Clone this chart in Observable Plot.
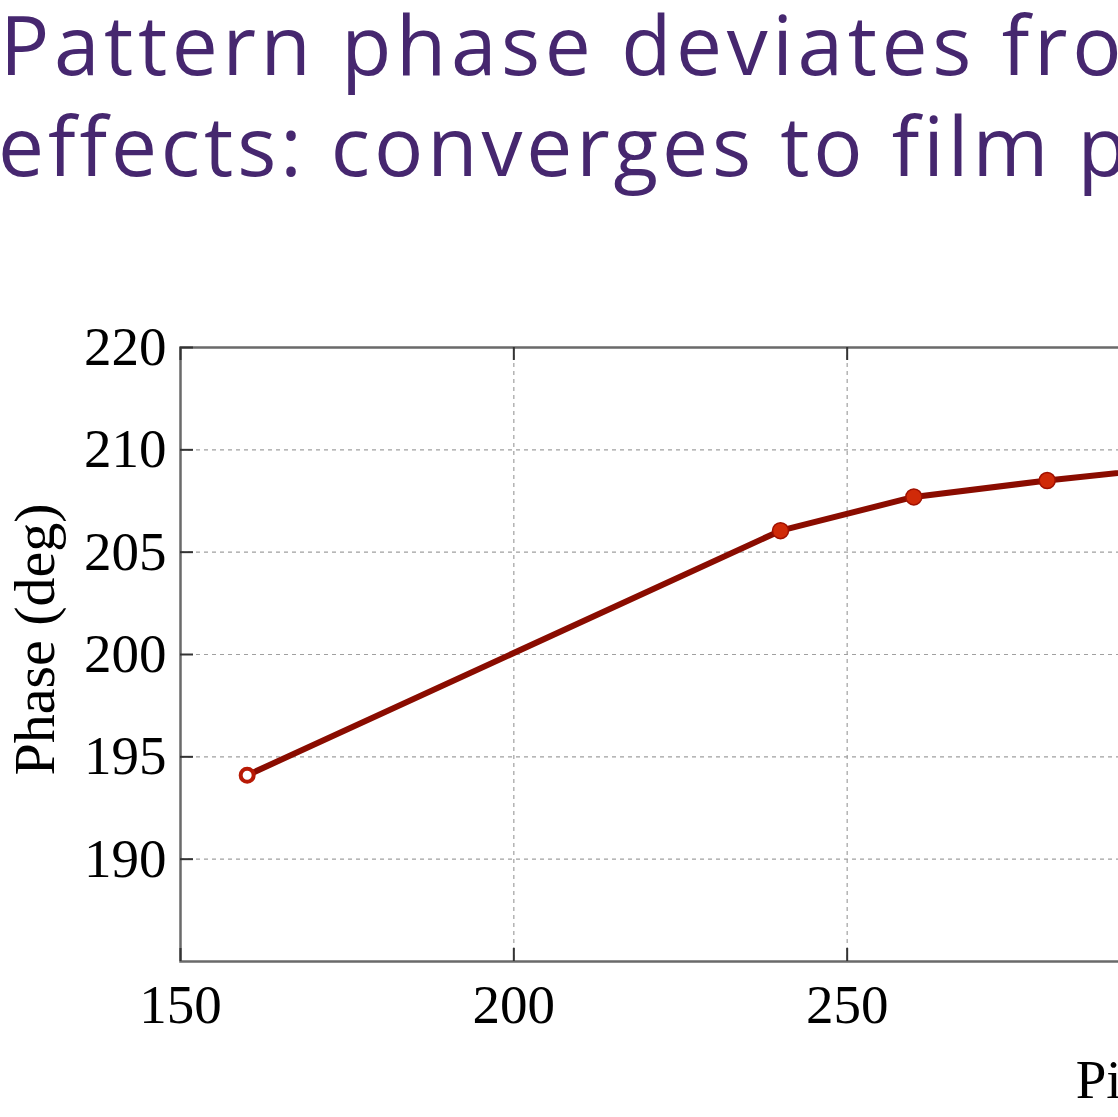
<!DOCTYPE html>
<html>
<head>
<meta charset="utf-8">
<script src="https://cdn.jsdelivr.net/npm/d3@7"></script>
<script src="https://cdn.jsdelivr.net/npm/@observablehq/plot@0.6"></script>
<style>
  html, body { margin: 0; padding: 0; background: #fff; width: 1118px; height: 1117px; overflow: hidden; position: relative; }
  #title { position: absolute; left: 0; top: 0; color: #46276f; font-family: "Open Sans", sans-serif; font-weight: 400; font-size: 82px; line-height: 101px; white-space: nowrap; letter-spacing: 4.6px; }
  #title div { white-space: nowrap; }
  #chart { position: absolute; left: 0; top: 230px; width: 2230px; }
  #chart svg { max-width: none !important; width: 2230px !important; height: 887px !important; }
</style>
</head>
<body>
<div id="title">
  <div style="margin-left:0px; margin-top:-7px">Pattern phase deviates from film phase due to edge</div>
  <div style="margin-left:-2px; letter-spacing:3.9px">effects: converges to film phase at large pitch</div>
</div>
<div id="chart"></div>
<script>
// Data
const pitch = [160, 240, 260, 280, 300];
const phase = [194.1, 206.05, 207.7, 208.5, 209.2];
const xTicks = [150, 200, 250, 300, 350, 400, 450];
const yTicks = [190, 195, 200, 205, 210, 215];
const yTickLabels = ["190", "195", "200", "205", "210", "220"];
const xLabel = "Pitch (nm)";
const yLabel = "Phase (deg)";

const data = pitch.map((p, i) => ({pitch: p, phase: phase[i], open: i === 0}));

const W = 2230, H = 887;
const mT = 117, mB = 156, mL = 180, mR = 50;
const frameW = W - mL - mR, frameH = H - mT - mB;
const serif = "Liberation Serif, Times New Roman, serif";

const chart = Plot.plot({
  width: W,
  height: H,
  marginTop: mT,
  marginBottom: mB,
  marginLeft: mL,
  marginRight: mR,
  style: {background: "transparent", overflow: "visible", maxWidth: "none"},
  x: {domain: [150, 450], axis: null},
  y: {domain: [185, 215], axis: null},
  marks: [
    Plot.ruleX(xTicks.filter(d => d > 150), {x: d => d, stroke: "#a0a0a0", strokeWidth: 1.2, strokeDasharray: "4,4"}),
    Plot.ruleY(yTicks, {y: d => d, stroke: "#a0a0a0", strokeWidth: 1.2, strokeDasharray: "4,4"}),
    Plot.frame({stroke: "#6a6a6a", strokeWidth: 2.5}),
    // inward ticks
    Plot.tickX(xTicks, {x: d => d, insetTop: frameH - 13, stroke: "#333", strokeWidth: 2}),
    Plot.tickX(xTicks, {x: d => d, insetBottom: frameH - 13, stroke: "#333", strokeWidth: 2}),
    Plot.tickY(yTicks, {y: d => d, insetRight: frameW - 13, stroke: "#333", strokeWidth: 2}),
    Plot.axisX({ticks: xTicks, tickSize: 0, tickPadding: 22, fontSize: 55, fontFamily: serif, label: null, tickFormat: d => String(d), fill: "#000"}),
    Plot.axisY({ticks: yTicks, tickSize: 0, tickPadding: 14, fontSize: 55, fontFamily: serif, label: null, tickFormat: d => yTickLabels[yTicks.indexOf(d)], fill: "#000"}),
    Plot.line(data, {x: "pitch", y: "phase", stroke: "#8a0c00", strokeWidth: 6, strokeLinejoin: "round"}),
    Plot.dot(data.filter(d => !d.open), {x: "pitch", y: "phase", r: 8, fill: "#d02a08", stroke: "#a01000", strokeWidth: 1.5}),
    Plot.dot(data.filter(d => d.open), {x: "pitch", y: "phase", r: 6.5, fill: "#fff", stroke: "#b81a05", strokeWidth: 4}),
    Plot.text([xLabel], {frameAnchor: "bottom", text: d => d, dy: 97, dx: 12, lineAnchor: "top", fontSize: 55, fontFamily: serif, fill: "#000"}),
    Plot.text([yLabel], {frameAnchor: "left", textAnchor: "middle", text: d => d, rotate: -90, dx: -145, dy: -15, fontSize: 58, fontFamily: serif, fill: "#000"})
  ]
});
document.getElementById("chart").appendChild(chart);
</script>
</body>
</html>
